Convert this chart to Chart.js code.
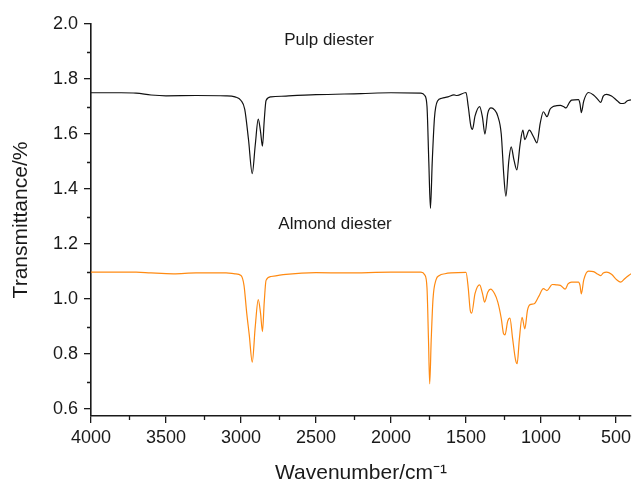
<!DOCTYPE html>
<html>
<head>
<meta charset="utf-8">
<script src="https://cdn.jsdelivr.net/npm/chart.js@4.4.1/dist/chart.umd.min.js"></script>
<style>
  html, body { margin: 0; padding: 0; background: #fff; }
  #wrap { width: 632px; height: 484px; }
</style>
</head>
<body>
<div id="wrap"><canvas id="myChart" width="632" height="484"></canvas></div>
<script>
// FTIR spectra
const pulpWn = [4000, 3800, 3700, 3600, 3500, 3300, 3100, 3040, 3000, 2975, 2950, 2925, 2905, 2885, 2870, 2857, 2845, 2833, 2800, 2700, 2500, 2200, 2000, 1800, 1775, 1760, 1748, 1737, 1725, 1710, 1690, 1660, 1620, 1580, 1560, 1500, 1485, 1468, 1457, 1440, 1409, 1390, 1374, 1355, 1333, 1310, 1288, 1265, 1248, 1234, 1215, 1199, 1180, 1161, 1140, 1121, 1108, 1078, 1050, 1027, 1005, 984, 960, 940, 919, 895, 871, 850, 833, 810, 796, 750, 740, 731, 715, 683, 650, 620, 602, 585, 562, 530, 490, 468, 440, 427, 400];
const pulpT = [1.750, 1.750, 1.749, 1.742, 1.739, 1.740, 1.739, 1.735, 1.722, 1.690, 1.580, 1.456, 1.560, 1.654, 1.610, 1.556, 1.650, 1.722, 1.735, 1.738, 1.743, 1.747, 1.750, 1.749, 1.740, 1.700, 1.500, 1.330, 1.500, 1.660, 1.720, 1.730, 1.735, 1.742, 1.740, 1.751, 1.700, 1.630, 1.617, 1.665, 1.700, 1.660, 1.600, 1.675, 1.695, 1.688, 1.665, 1.600, 1.450, 1.374, 1.500, 1.553, 1.505, 1.470, 1.560, 1.614, 1.580, 1.614, 1.590, 1.568, 1.640, 1.681, 1.663, 1.690, 1.700, 1.703, 1.704, 1.700, 1.695, 1.715, 1.723, 1.725, 1.710, 1.678, 1.720, 1.751, 1.742, 1.725, 1.715, 1.738, 1.744, 1.738, 1.720, 1.711, 1.713, 1.720, 1.724];

const almondWn = [4000, 3700, 3600, 3450, 3300, 3100, 3040, 3000, 2980, 2962, 2945, 2925, 2905, 2885, 2870, 2857, 2845, 2833, 2800, 2700, 2500, 2300, 2000, 1800, 1775, 1760, 1750, 1742, 1732, 1720, 1700, 1677, 1640, 1600, 1500, 1485, 1472, 1462, 1440, 1409, 1390, 1376, 1355, 1336, 1310, 1288, 1265, 1250, 1240, 1222, 1207, 1190, 1170, 1159, 1145, 1126, 1108, 1090, 1073, 1046, 1015, 984, 960, 925, 900, 871, 839, 820, 796, 750, 740, 731, 715, 683, 650, 620, 602, 585, 562, 530, 495, 468, 440, 400];
const almondT = [1.098, 1.098, 1.095, 1.092, 1.095, 1.095, 1.092, 1.086, 1.050, 0.950, 0.870, 0.771, 0.900, 0.998, 0.950, 0.882, 0.990, 1.068, 1.082, 1.090, 1.096, 1.095, 1.098, 1.098, 1.088, 1.040, 0.850, 0.692, 0.850, 1.000, 1.070, 1.086, 1.092, 1.095, 1.097, 1.040, 0.960, 0.949, 1.020, 1.052, 1.020, 0.989, 1.025, 1.036, 1.020, 0.989, 0.930, 0.875, 0.870, 0.920, 0.931, 0.860, 0.780, 0.765, 0.850, 0.934, 0.892, 0.960, 0.980, 0.983, 1.010, 1.038, 1.031, 1.053, 1.052, 1.050, 1.036, 1.055, 1.062, 1.062, 1.050, 1.019, 1.070, 1.102, 1.100, 1.090, 1.085, 1.095, 1.098, 1.090, 1.070, 1.062, 1.075, 1.092];

const seriesNames = ['Pulp diester', 'Almond diester'];
// where the two labels sit, in data units [wavenumber, transmittance]
const labelPos = [[2413, 1.942], [2373, 1.273]];

const xTicks = [4000, 3500, 3000, 2500, 2000, 1500, 1000, 500];
const yTicks = [0.6, 0.8, 1.0, 1.2, 1.4, 1.6, 1.8, 2.0];
const yMinorTicks = [0.7, 0.9, 1.1, 1.3, 1.5, 1.7, 1.9];
const xMinorTicks = [3750, 3250, 2750, 2250, 1750, 1250, 750];

const toPoints = (wn, t) => wn.map((w, i) => ({x: w, y: t[i]}));

const ink = '#1a1a1a';
const fontFam = '"Liberation Sans", Arial, sans-serif';

// minor ticks + curve labels
const extras = {
  id: 'extras',
  afterDraw(chart) {
    const ctx = chart.ctx;
    const xs = chart.scales.x, ys = chart.scales.y;
    const area = chart.chartArea;
    ctx.save();
    ctx.strokeStyle = ink;
    ctx.lineWidth = 1.3;
    ctx.beginPath();
    yMinorTicks.forEach(v => {
      const py = Math.round(ys.getPixelForValue(v)) + 0.5;
      ctx.moveTo(area.left, py);
      ctx.lineTo(area.left - 4, py);
    });
    xMinorTicks.forEach(v => {
      const px = Math.round(xs.getPixelForValue(v)) + 0.5;
      ctx.moveTo(px, area.bottom);
      ctx.lineTo(px, area.bottom + 4);
    });
    ctx.stroke();

    ctx.fillStyle = ink;
    ctx.font = '17px ' + fontFam;
    ctx.textAlign = 'center';
    ctx.textBaseline = 'middle';
    seriesNames.forEach((name, i) => {
      ctx.fillText(name, xs.getPixelForValue(labelPos[i][0]), ys.getPixelForValue(labelPos[i][1]));
    });
    ctx.restore();
  }
};

const config = {
  type: 'line',
  data: {
    datasets: [
      {
        label: seriesNames[0],
        data: toPoints(pulpWn, pulpT),
        borderColor: '#111111',
        borderWidth: 1.2,
        pointRadius: 0,
        fill: false,
        cubicInterpolationMode: 'monotone'
      },
      {
        label: seriesNames[1],
        data: toPoints(almondWn, almondT),
        borderColor: '#ff8a12',
        borderWidth: 1.2,
        pointRadius: 0,
        fill: false,
        cubicInterpolationMode: 'monotone'
      }
    ]
  },
  options: {
    responsive: false,
    animation: false,
    layout: { padding: { top: 24, right: 1, bottom: 0, left: 0 } },
    plugins: {
      legend: { display: false },
      tooltip: { enabled: false }
    },
    scales: {
      x: {
        type: 'linear',
        reverse: true,
        min: 400,
        max: 4000,
        afterBuildTicks: s => { s.ticks = xTicks.map(v => ({value: v})); },
        afterFit: s => { s.height = 68; s.paddingLeft = 0; s.paddingRight = 0; },
        border: { display: true, color: ink, width: 1.6 },
        grid: { drawOnChartArea: false, drawTicks: true, tickLength: 7, color: ink, lineWidth: 1.3 },
        ticks: {
          color: ink,
          padding: 4,
          maxRotation: 0,
          autoSkip: false,
          font: { family: fontFam, size: 18 },
          callback: v => String(v)
        },
        title: {
          display: true,
          text: 'Wavenumber/cm\u207B\u00B9',
          color: ink,
          padding: { top: 0, bottom: 0 },
          font: { family: fontFam, size: 21, lineHeight: 1 }
        }
      },
      y: {
        min: 0.575,
        max: 2.0,
        afterBuildTicks: s => { s.ticks = yTicks.map(v => ({value: v})); },
        afterFit: s => { s.width = 91; s.paddingTop = 0; s.paddingBottom = 0; },
        border: { display: true, color: ink, width: 1.6 },
        grid: { drawOnChartArea: false, drawTicks: true, tickLength: 7, color: ink, lineWidth: 1.3 },
        ticks: {
          color: ink,
          padding: 6,
          autoSkip: false,
          font: { family: fontFam, size: 18 },
          callback: v => v.toFixed(1)
        },
        title: {
          display: true,
          text: 'Transmittance/%',
          color: ink,
          padding: { top: 9, bottom: 0 },
          font: { family: fontFam, size: 21 }
        }
      }
    }
  },
  plugins: [extras]
};

const myChart = new Chart(document.getElementById('myChart'), config);
</script>
</body>
</html>
